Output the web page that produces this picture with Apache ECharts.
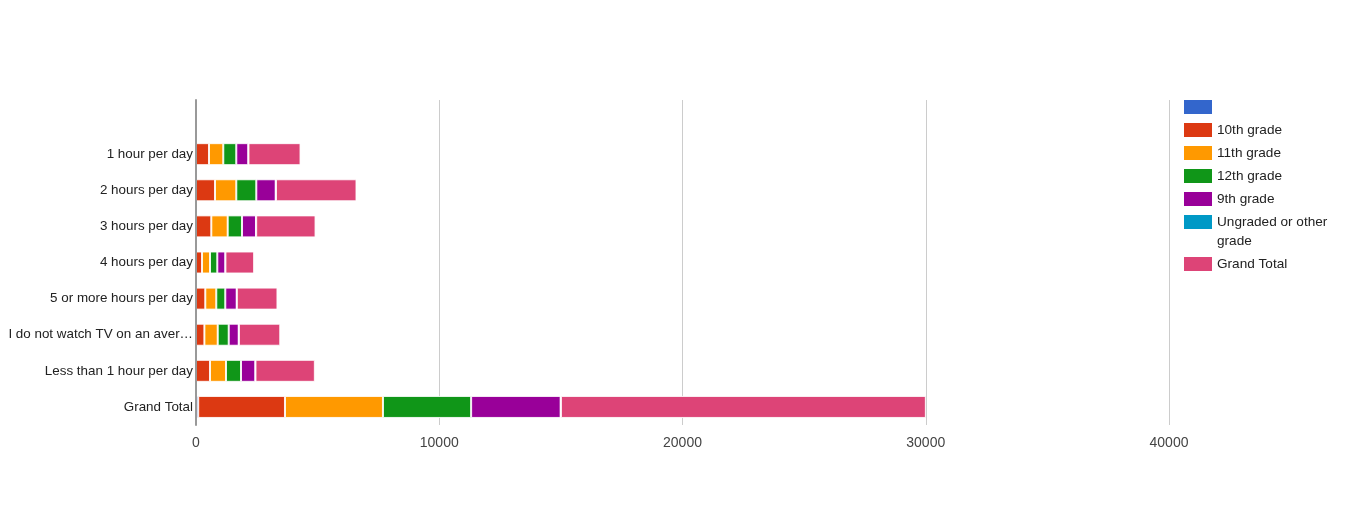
<!DOCTYPE html>
<html>
<head>
<meta charset="utf-8">
<script src="https://cdn.jsdelivr.net/npm/echarts@6/dist/echarts.min.js"></script>
<style>
html,body{margin:0;padding:0;background:#fff;}
#chart{width:1353px;height:509px;}
</style>
</head>
<body>
<div id="chart"></div>
<script>
const categories = ['', '1 hour per day', '2 hours per day', '3 hours per day', '4 hours per day', '5 or more hours per day', 'I do not watch TV on an average school day', 'Less than 1 hour per day', 'Grand Total'];
const blankGrade = [null, 0, 0, 0, 0, 0, 0, 0, 90];
const grade10 = [null, 534, 781, 629, 247, 382, 345, 575, 3568];
const grade11 = [null, 588, 876, 674, 329, 452, 548, 658, 4028];
const grade12 = [null, 534, 822, 588, 300, 370, 452, 617, 3625];
const grade9 = [null, 493, 797, 575, 329, 469, 411, 588, 3679];
const ungraded = [null, 8, 12, 8, 4, 6, 8, 8, 12];
const grandTotal = [null, 2140, 3310, 2440, 1180, 1670, 1700, 2440, 15002];
const xTicks = { min: 0, max: 40000, interval: 10000 };

const seriesNames = ['(blank)', '10th grade', '11th grade', '12th grade', '9th grade', 'Ungraded or other grade', 'Grand Total'];
const seriesData = [blankGrade, grade10, grade11, grade12, grade9, ungraded, grandTotal];
const colors = ['#3366cc', '#dc3912', '#ff9900', '#109618', '#990099', '#0099c6', '#dd4477'];

const chart = echarts.init(document.getElementById('chart'), null, { renderer: 'canvas' });
const fontFamily = '"Liberation Sans", Arial, sans-serif';
const legendText = { fontFamily: fontFamily, fontSize: 13.6, color: '#222', lineHeight: 19 };
const legendCommon = {
  orient: 'vertical',
  left: 1184,
  padding: 0,
  itemWidth: 28,
  itemHeight: 14,
  itemGap: 4,
  icon: 'rect',
  selectedMode: false,
  itemStyle: { borderWidth: 0 },
  textStyle: legendText
};
chart.setOption({
  color: colors,
  animation: false,
  grid: { left: 196, right: 184, top: 100, bottom: 84, containLabel: false },
  legend: [
    Object.assign({}, legendCommon, {
      top: 97.5,
      data: seriesNames.slice(0, 5),
      formatter: function (n) { return n === '(blank)' ? ' ' : n; }
    }),
    Object.assign({}, legendCommon, {
      top: 193.5,
      data: [seriesNames[5]],
      formatter: function () { return ' \nUngraded or other\ngrade'; }
    }),
    Object.assign({}, legendCommon, {
      top: 254.5,
      data: [seriesNames[6]]
    })
  ],
  xAxis: {
    type: 'value',
    min: xTicks.min,
    max: xTicks.max,
    interval: xTicks.interval,
    axisLine: { show: false },
    axisTick: { show: false },
    splitLine: { show: true, lineStyle: { color: '#cccccc', width: 1 } },
    axisLabel: {
      color: '#444', fontSize: 14, fontFamily: fontFamily, margin: 11,
      formatter: function (v) { return String(v); }
    }
  },
  yAxis: {
    type: 'category',
    inverse: true,
    z: 5,
    data: categories,
    axisLine: { show: true, lineStyle: { color: '#999', width: 2 } },
    axisTick: { show: false },
    axisLabel: {
      color: '#222', fontSize: 13.4, fontFamily: fontFamily, margin: 3,
      width: 187, overflow: 'truncate', ellipsis: '…'
    }
  },
  series: seriesNames.map(function (name, i) {
    return {
      name: name,
      type: 'bar',
      stack: 'total',
      data: seriesData[i],
      barWidth: 22,
      itemStyle: { color: colors[i], borderColor: 'rgba(255,255,255,0.85)', borderWidth: 1 }
    };
  })
});
</script>
</body>
</html>
